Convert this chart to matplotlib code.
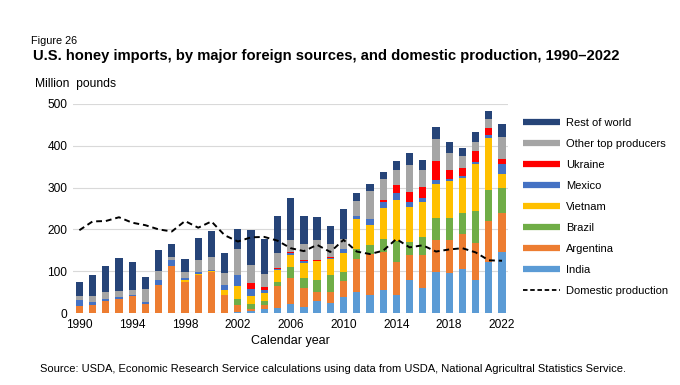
import numpy as np
import matplotlib
matplotlib.use("Agg")
import matplotlib.pyplot as plt
from matplotlib.lines import Line2D

plt.rcParams['font.family'] = ['Liberation Sans', 'DejaVu Sans']

years = list(range(1990, 2023))

# million pounds
india = [0, 0, 0, 0, 0, 0, 0, 0, 0, 0, 0, 0, 3, 4, 10, 13, 21, 14, 29, 25,
         38, 50, 44, 54, 42, 78, 61, 98, 96, 106, 79, 122, 145]
argentina = [17, 18, 29, 34, 40, 22, 68, 112, 74, 90, 98, 42, 15, 6, 8, 51, 63, 47, 21, 25,
             38, 80, 98, 93, 80, 60, 77, 76, 78, 82, 89, 99, 95]
brazil = [0, 0, 0, 0, 0, 0, 0, 0, 0, 0, 0, 0, 16, 11, 11, 10, 26, 23, 30, 40,
          23, 24, 20, 31, 50, 32, 44, 54, 54, 51, 75, 74, 60]
vietnam = [0, 0, 0, 0, 0, 0, 0, 0, 4, 4, 3, 14, 30, 19, 20, 28, 28, 36, 44, 40,
           45, 71, 49, 74, 98, 83, 83, 81, 87, 83, 113, 123, 32]
mexico = [13, 8, 4, 4, 4, 4, 12, 14, 6, 4, 2, 10, 26, 18, 7, 4, 5, 4, 1, 2,
          10, 6, 14, 13, 16, 12, 11, 8, 5, 5, 6, 8, 25]
ukraine = [0, 0, 0, 0, 0, 0, 0, 0, 0, 0, 0, 0, 0, 14, 6, 2, 3, 3, 2, 2,
           0, 0, 0, 6, 21, 24, 25, 46, 21, 21, 25, 16, 12]
other = [11, 15, 17, 14, 10, 32, 20, 9, 14, 28, 32, 30, 64, 42, 32, 36, 29, 39, 48, 30,
         22, 37, 67, 50, 36, 66, 42, 54, 42, 27, 23, 22, 52]
rest = [33, 49, 62, 79, 68, 28, 50, 29, 31, 54, 61, 47, 46, 84, 84, 88, 101, 66, 55, 44,
        73, 20, 17, 16, 20, 28, 24, 29, 26, 19, 22, 20, 31]
domestic = [198, 219, 220, 229, 216, 210, 200, 195, 220, 204, 219, 186, 171, 181, 182, 173, 155, 148, 163, 146,
            175, 147, 141, 149, 177, 157, 162, 147, 152, 155, 145, 126, 125]

series = [
    ("India", india, "#5B9BD5"),
    ("Argentina", argentina, "#ED7D31"),
    ("Brazil", brazil, "#70AD47"),
    ("Vietnam", vietnam, "#FFC000"),
    ("Mexico", mexico, "#4472C4"),
    ("Ukraine", ukraine, "#FF0000"),
    ("Other top producers", other, "#A5A5A5"),
    ("Rest of world", rest, "#264478"),
]

fig = plt.figure(figsize=(6.8, 3.85), dpi=100)
ax = fig.add_axes([0.107, 0.187, 0.640, 0.543])

x = np.array(years)
bottom = np.zeros(len(years))
for name, vals, col in series:
    ax.bar(x, vals, bottom=bottom, width=0.55, color=col, zorder=2)
    bottom += np.array(vals)

ax.plot(x, domestic, color="black", lw=1.4, ls=(0, (3, 2)), zorder=3)

ax.set_ylim(0, 500)
ax.set_xlim(1989.5, 2022.45)
ax.set_yticks(range(0, 501, 100))
ax.set_xticks(range(1990, 2023, 4))
ax.grid(axis="y", color="#D9D9D9", lw=0.8, zorder=0)
for s in ax.spines.values():
    s.set_visible(False)
ax.tick_params(length=0, labelsize=8.6, colors="#000000", pad=4)
ax.set_xlabel("Calendar year", fontsize=9, labelpad=3)

# legend
handles = []
labels = []
for name, vals, col in reversed(series):
    handles.append(Line2D([0], [0], color=col, lw=4.5, solid_capstyle="butt"))
    labels.append(name)
handles.append(Line2D([0], [0], color="black", lw=1.3, ls=(0, (2.5, 1.5))))
labels.append("Domestic production")
fig.legend(handles, labels, loc="upper left", bbox_to_anchor=(0.762, 0.705),
           frameon=False, fontsize=8, handlelength=3.4, handletextpad=0.5,
           labelspacing=0.99, borderaxespad=0)

fig.text(0.046, 0.885, "Figure 26", fontsize=7.8)
fig.text(0.048, 0.845, "U.S. honey imports, by major foreign sources, and domestic production, 1990\u20132022",
         fontsize=10.6, fontweight="bold")
fig.text(0.052, 0.773, "Million  pounds", fontsize=8.7)
fig.text(0.059, 0.035, "Source: USDA, Economic Research Service calculations using data from USDA, "
         "National Agricultral Statistics Service.", fontsize=8)

fig.savefig("out.png", dpi=100)
